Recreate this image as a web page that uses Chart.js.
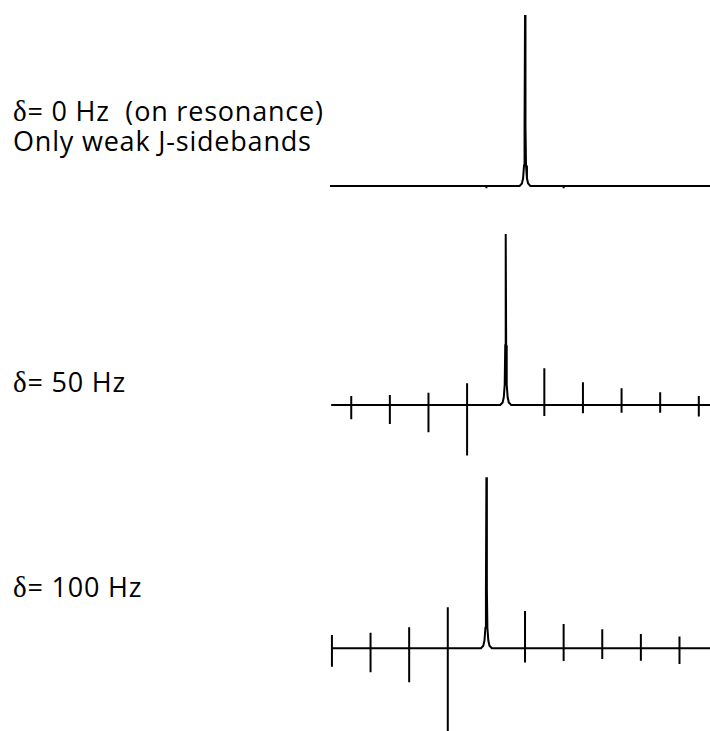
<!DOCTYPE html>
<html>
<head>
<meta charset="utf-8">
<title>J-sidebands vs offset</title>
<script src="https://cdn.jsdelivr.net/npm/chart.js@4.4.1/dist/chart.umd.min.js"></script>
<style>
  html, body { margin: 0; padding: 0; background: #fff; }
  body { position: relative; width: 710px; height: 731px; overflow: hidden;
         font-family: "Open Sans", Lato, sans-serif; color: #000; }
  .label { position: absolute; left: 13px; font-size: 27px; line-height: 30px;
           letter-spacing: 0.8px; white-space: pre; }
  .label .d { font-family: "Liberation Serif", "DejaVu Serif", serif; font-size: 29px; }
  .spec { position: absolute; left: 330px; }
  canvas { display: block; }
</style>
</head>
<body>

<div class="label" style="top:96px"><span class="d">δ</span>= 0 Hz  (on resonance)
Only weak J-sidebands</div>
<div class="label" style="top:367px"><span class="d">δ</span>= 50 Hz</div>
<div class="label" style="top:572px"><span class="d">δ</span>= 100 Hz</div>

<canvas id="spec0" class="spec" width="380" height="205" style="top:0px"></canvas>
<canvas id="spec50" class="spec" width="380" height="255" style="top:205px"></canvas>
<canvas id="spec100" class="spec" width="380" height="271" style="top:460px"></canvas>

<script>
// Offsets in Hz; axis runs NMR-style, higher offset on the left.
// Intensities are in percent of the centre-band height.

// centre-band lineshape (Hz from the line centre / intensity)
const peakShapeHz  = [-14, -8, -5, -2.6, -1.2, 0, 1.2, 2.6, 5, 8, 14];
const peakShapeVal = [0, 1.5, 4.5, 12, 35, 100, 35, 12, 4.5, 1.5, 0];

// delta = 0 Hz: on resonance, barely visible sidebands
const centre0 = 0;
const sbHz0   = [100, -100];
const sbUp0   = [0, 0];
const sbDown0 = [-1.3, -1.3];

// delta = 50 Hz
const centre50 = 50;
const sbHz50   = [450, 350, 250, 150, -50, -150, -250, -350, -450];
const sbUp50   = [5.3, 5.8, 7.2, 12.7, 21.5, 13.3, 9.8, 7.4, 5.3];
const sbDown50 = [-8.4, -11.1, -16.0, -29.6, -6.4, -4.9, -4.5, -4.5, -6.8];

// delta = 100 Hz
const centre100 = 100;
const sbHz100   = [500, 400, 300, 200, 0, -100, -200, -300, -400];
const sbUp100   = [7.8, 9.1, 12.3, 24.0, 21.8, 14.2, 11.1, 8.4, 6.8];
const sbDown100 = [-10.8, -14.0, -19.9, -49.0, -8.4, -7.4, -6.3, -7.3, -9.2];

// Turn a centre line plus sidebands into one trace, drawn left to right
function buildTrace(startHz, endHz, centre, sbHz, sbUp, sbDown) {
    const marks = sbHz.map((f, i) => ({ f: f, i: i, peak: false }));
    marks.push({ f: centre, peak: true });
    marks.sort((a, b) => b.f - a.f);

    const pts = [{ x: startHz, y: 0 }];
    marks.forEach(m => {
        if (m.peak) {
            for (let k = 0; k < peakShapeHz.length; k++) {
                pts.push({ x: centre - peakShapeHz[k], y: peakShapeVal[k] });
            }
        } else {
            // sidebands are narrow up/down spikes
            pts.push({ x: m.f, y: 0 }, { x: m.f, y: sbUp[m.i] },
                     { x: m.f, y: sbDown[m.i] }, { x: m.f, y: 0 });
        }
    });
    pts.push({ x: endHz, y: 0 });
    return pts;
}

function drawSpectrum(canvasId, points, yMin, yMax) {
    const ctx = document.getElementById(canvasId).getContext('2d');
    return new Chart(ctx, {
        type: 'scatter',
        data: {
            datasets: [{
                data: points,
                showLine: true,
                borderColor: '#000',
                borderWidth: 2,
                pointRadius: 0,
                tension: 0
            }]
        },
        options: {
            responsive: false,
            animation: false,
            events: [],
            layout: { padding: 0 },
            plugins: { legend: { display: false }, tooltip: { enabled: false } },
            scales: {
                x: { type: 'linear', reverse: true, min: -479, max: 505, display: false },
                y: { min: yMin, max: yMax, display: false }
            }
        }
    });
}

drawSpectrum('spec0', buildTrace(505, -479, centre0, sbHz0, sbUp0, sbDown0), -11.1, 108.8);
drawSpectrum('spec50', buildTrace(502, -479, centre50, sbHz50, sbUp50, sbDown50), -32.2, 117.0);
drawSpectrum('spec100', buildTrace(500, -479, centre100, sbHz100, sbUp100, sbDown100), -48.4, 110.1);
</script>
</body>
</html>
